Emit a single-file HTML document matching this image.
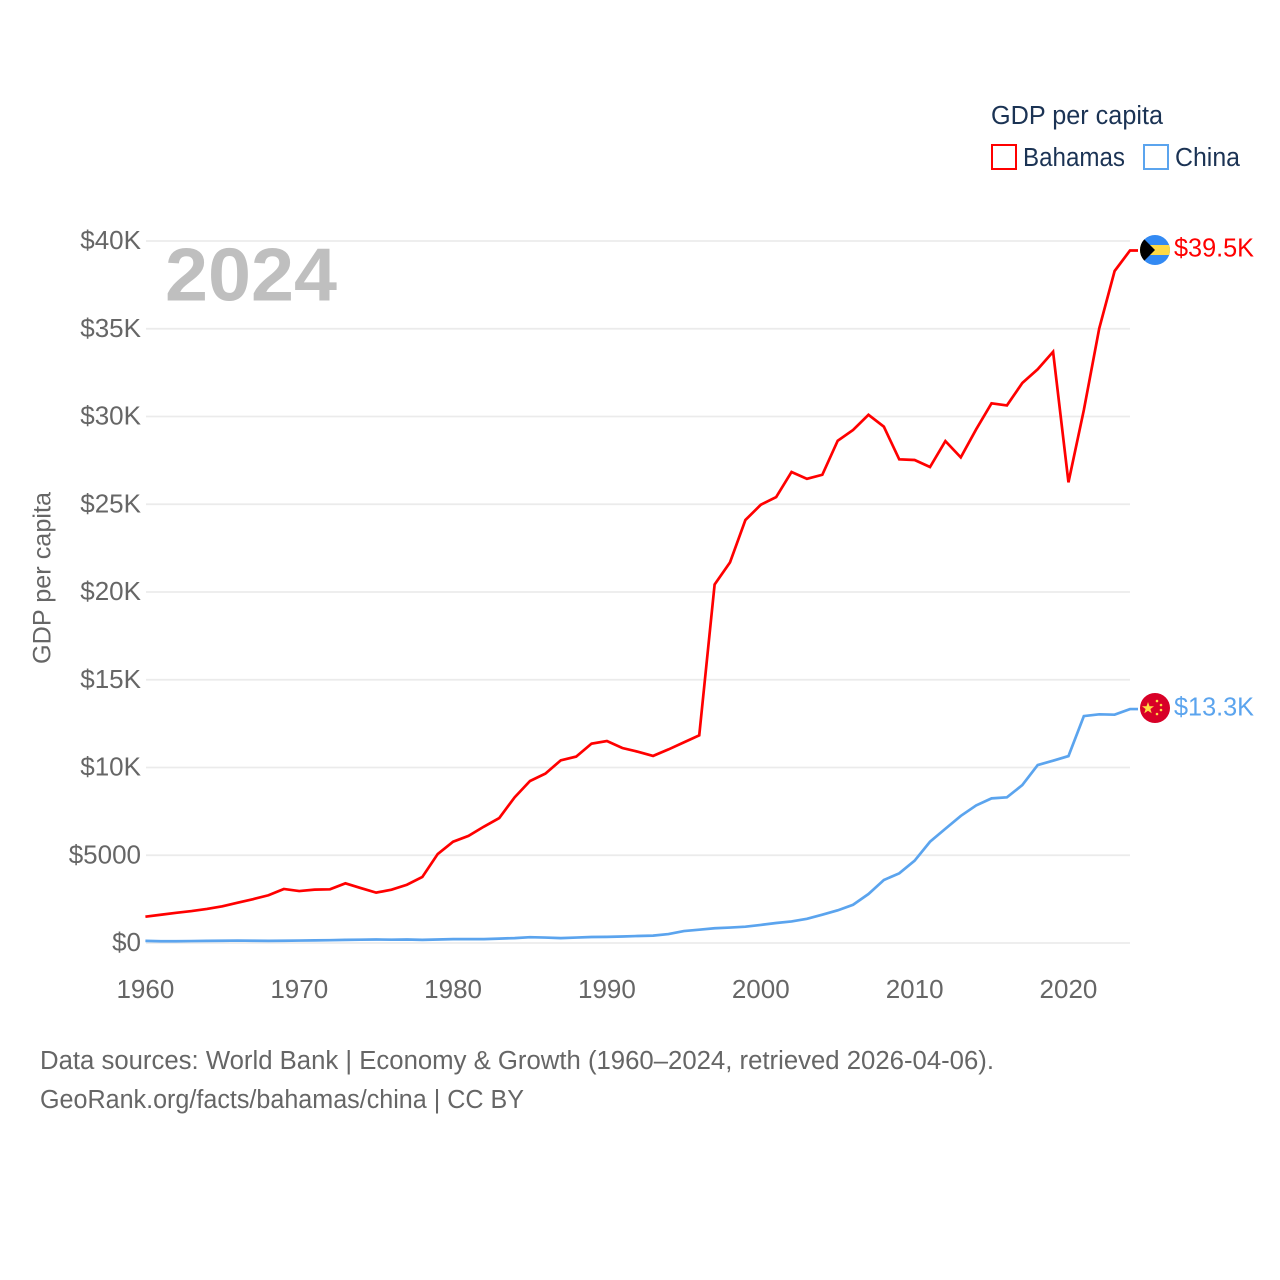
<!DOCTYPE html>
<html lang="en">
<head>
<meta charset="utf-8">
<title>GDP per capita: Bahamas and China</title>
<style>
html,body{margin:0;padding:0;background:#fff;}
svg{display:block;}
text{font-family:"Liberation Sans",Arial,sans-serif;}
</style>
</head>
<body>
<svg id="chart" width="1280" height="1280" viewBox="0 0 1280 1280" xmlns="http://www.w3.org/2000/svg">
  <g id="grid"></g>
  <g id="yticks"></g>
  <g id="xticks"></g>
  <text x="165" y="300.5" font-size="75" font-weight="700" fill="#bfbfbf" textLength="172" lengthAdjust="spacingAndGlyphs">2024</text>
  <text transform="translate(50.5,578) rotate(-90)" text-anchor="middle" font-size="25" fill="#666" textLength="172" lengthAdjust="spacingAndGlyphs">GDP per capita</text>
  <g id="series"></g>

  <g>
    <text x="991" y="124" font-size="25.5" fill="#1b3354" textLength="172" lengthAdjust="spacingAndGlyphs">GDP per capita</text>
    <g>
      <rect x="992" y="145" width="24" height="24" fill="#fff" stroke="#ff0000" stroke-width="2"/>
      <text x="1023" y="166" font-size="25.5" fill="#1b3354" textLength="102" lengthAdjust="spacingAndGlyphs">Bahamas</text>
    </g>
    <g>
      <rect x="1144" y="145" width="24" height="24" fill="#fff" stroke="#5ba4ee" stroke-width="2"/>
      <text x="1175" y="166" font-size="25.5" fill="#1b3354" textLength="65" lengthAdjust="spacingAndGlyphs">China</text>
    </g>
  </g>

  <defs>
    <clipPath id="flag-clip-bs"><circle cx="1155" cy="250" r="15"/></clipPath>
    <clipPath id="flag-clip-cn"><circle cx="1155" cy="708" r="15"/></clipPath>
  </defs>
  <g clip-path="url(#flag-clip-bs)">
    <rect x="1140" y="235" width="30" height="30" fill="#338af3"/>
    <rect x="1140" y="245" width="30" height="10" fill="#ffda44"/>
    <polygon points="1138,233 1155,250 1138,267" fill="#000"/>
  </g>
  <g clip-path="url(#flag-clip-cn)">
    <rect x="1140" y="693" width="30" height="30" fill="#d80027"/>
    <polygon points="1148,702 1149.5,706.3 1154,706.3 1150.4,709 1151.7,713.3 1148,710.7 1144.3,713.3 1145.6,709 1142,706.3 1146.5,706.3" fill="#ffda44"/>
    <circle cx="1157" cy="701" r="1.3" fill="#ffda44"/>
    <circle cx="1161" cy="705" r="1.3" fill="#ffda44"/>
    <circle cx="1161" cy="710" r="1.3" fill="#ffda44"/>
    <circle cx="1157" cy="714" r="1.3" fill="#ffda44"/>
  </g>
  <text x="1174" y="256.5" font-size="25.5" fill="#ff0000" textLength="80" lengthAdjust="spacingAndGlyphs">$39.5K</text>
  <text x="1174" y="715.5" font-size="25.5" fill="#5ba4ee" textLength="80" lengthAdjust="spacingAndGlyphs">$13.3K</text>

  <g>
    <text x="40" y="1069" font-size="25.5" fill="#666" textLength="954" lengthAdjust="spacingAndGlyphs">Data sources: World Bank | Economy &amp; Growth (1960–2024, retrieved 2026-04-06).</text>
    <text x="40" y="1108" font-size="25.5" fill="#666" textLength="484" lengthAdjust="spacingAndGlyphs">GeoRank.org/facts/bahamas/china | CC BY</text>
  </g>
</svg>
<script>
const startYear = 1960;
const bahamasValues = [1.50,1.61,1.72,1.82,1.94,2.09,2.30,2.50,2.72,3.08,2.96,3.04,3.06,3.40,3.13,2.87,3.04,3.32,3.76,5.07,5.77,6.10,6.63,7.12,8.30,9.23,9.65,10.41,10.62,11.36,11.51,11.11,10.90,10.66,11.03,11.43,11.83,20.43,21.69,24.10,24.97,25.41,26.84,26.45,26.68,28.62,29.23,30.10,29.42,27.56,27.52,27.12,28.60,27.67,29.27,30.75,30.63,31.91,32.69,33.69,26.25,30.37,35.02,38.29,39.46];
const chinaValues = [0.12,0.10,0.10,0.11,0.12,0.13,0.14,0.13,0.12,0.13,0.14,0.15,0.16,0.18,0.19,0.20,0.19,0.20,0.18,0.20,0.22,0.22,0.22,0.25,0.28,0.33,0.31,0.28,0.31,0.34,0.35,0.37,0.40,0.42,0.51,0.68,0.76,0.84,0.88,0.93,1.03,1.14,1.23,1.38,1.61,1.86,2.18,2.79,3.59,3.97,4.69,5.77,6.51,7.24,7.84,8.24,8.30,9.00,10.14,10.39,10.65,12.93,13.03,13.01,13.33];
const yTickValues = [0,5,10,15,20,25,30,35,40];
const yTickLabels = ['$0','$5000','$10K','$15K','$20K','$25K','$30K','$35K','$40K'];
const xTickYears = [1960,1970,1980,1990,2000,2010,2020];

const NS = 'http://www.w3.org/2000/svg';
const X0 = 145.4, PX_PER_YEAR = 984.6 / 64;
const Y0 = 943, PX_PER_K = 702 / 40;
function xScale(year) { return X0 + (year - startYear) * PX_PER_YEAR; }
function yScale(v) { return Y0 - v * PX_PER_K; }
function make(tag, attrs) {
  const el = document.createElementNS(NS, tag);
  for (const k in attrs) el.setAttribute(k, attrs[k]);
  return el;
}

const gridG = document.getElementById('grid');
const yG = document.getElementById('yticks');
yTickValues.forEach(function (v, i) {
  const y = yScale(v);
  const line = make('line', { x1: 146, x2: 1130, y1: y, y2: y, stroke: '#ebebeb', 'stroke-width': 1.8 });
  
  
  gridG.appendChild(line);
  const label = make('text', { x: 141, y: y + 8, 'text-anchor': 'end', 'font-size': 26, fill: '#666' });
  
  
  label.textContent = yTickLabels[i];
  yG.appendChild(label);
});

const xG = document.getElementById('xticks');
xTickYears.forEach(function (yr) {
  const label = make('text', { x: xScale(yr), y: 998, 'text-anchor': 'middle', 'font-size': 26, fill: '#666' });
  
  
  label.textContent = String(yr);
  xG.appendChild(label);
});

function linePoints(values) {
  const pts = values.map(function (v, i) {
    return xScale(startYear + i).toFixed(2) + ',' + yScale(v).toFixed(2);
  });
  const last = values[values.length - 1];
  pts.push('1138,' + yScale(last).toFixed(2));
  return pts.join(' ');
}
const seriesG = document.getElementById('series');

const bahamasLine = make('polyline', { points: linePoints(bahamasValues), fill: 'none', stroke: '#ff0000', 'stroke-width': 2.7, 'stroke-linejoin': 'miter' });


seriesG.appendChild(bahamasLine);

const chinaLine = make('polyline', { points: linePoints(chinaValues), fill: 'none', stroke: '#5ba4ee', 'stroke-width': 2.7, 'stroke-linejoin': 'miter' });


seriesG.appendChild(chinaLine);
</script>
</body>
</html>
